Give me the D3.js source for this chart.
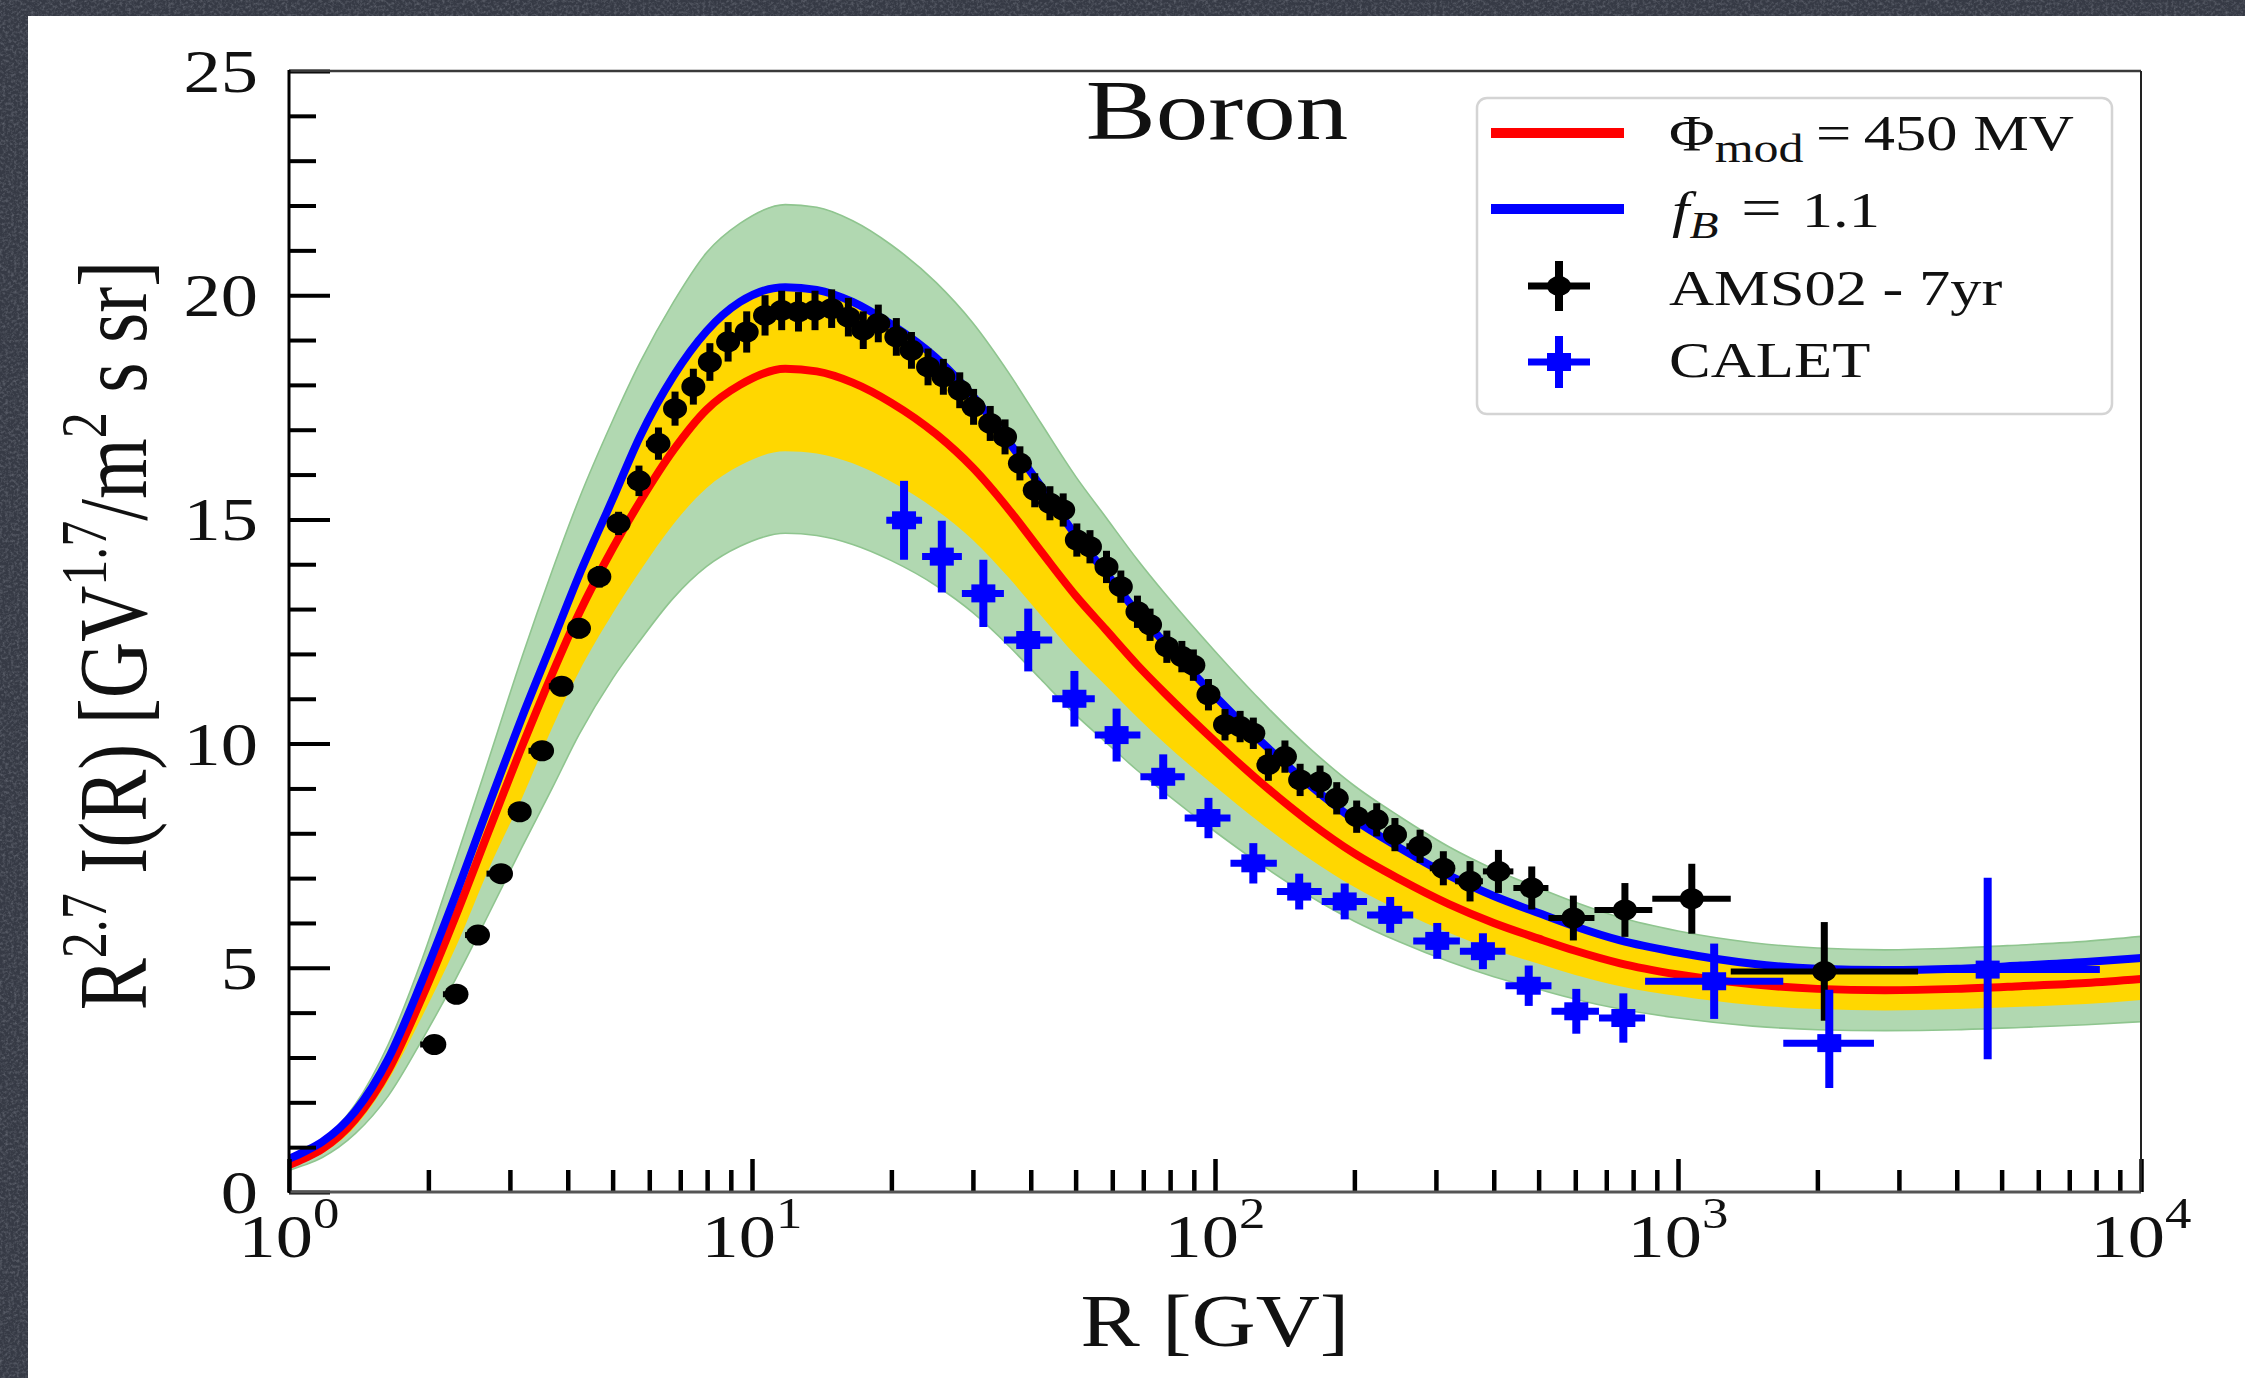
<!DOCTYPE html>
<html>
<head>
<meta charset="utf-8">
<script src="https://cdn.jsdelivr.net/npm/d3@7"></script>
<style>
  html, body { margin: 0; padding: 0; background: #383c47; }
  svg { display: block; }
</style>
</head>
<body>
<svg id="chart" width="2245" height="1378"></svg>
<script>
// ---- Model curves: R^2.7 * flux for boron, sampled in rigidity R [GV] ----
const modelR      = [1, 1.08, 1.18, 1.39, 1.64, 1.94, 2.29, 2.7, 3.19, 3.7, 4.23, 5.0, 5.73, 6.77, 7.98, 9.42, 11.8, 13.8, 16.5, 20, 25, 30, 36, 42, 50, 58, 68, 78, 100, 125, 160, 200, 250, 320, 400, 500, 600, 750, 1000, 1450, 2000, 2800, 4000, 5500, 7600, 10000];
const phiMod450   = [0.6, 0.75, 0.96, 1.62, 2.72, 4.35, 6.15, 8.05, 9.95, 11.55, 12.9, 14.35, 15.4, 16.55, 17.45, 18.0, 18.36, 18.3, 18.05, 17.6, 16.9, 16.15, 15.2, 14.3, 13.3, 12.55, 11.75, 11.12, 10.05, 9.15, 8.25, 7.55, 6.98, 6.42, 6.0, 5.65, 5.38, 5.1, 4.85, 4.63, 4.53, 4.5, 4.53, 4.59, 4.66, 4.75];
const fB11        = [0.74, 0.9, 1.12, 1.8, 2.98, 4.72, 6.62, 8.62, 10.6, 12.25, 13.75, 15.45, 16.85, 18.2, 19.2, 19.85, 20.18, 20.12, 19.85, 19.35, 18.6, 17.75, 16.7, 15.75, 14.65, 13.82, 12.92, 12.24, 11.06, 10.07, 9.08, 8.3, 7.68, 7.06, 6.6, 6.22, 5.92, 5.61, 5.34, 5.09, 4.98, 4.95, 4.98, 5.05, 5.13, 5.22];
const innerBandLo = [0.54, 0.68, 0.86, 1.46, 2.5, 3.92, 5.45, 7.2, 8.8, 10.35, 11.6, 12.9, 13.85, 14.9, 15.7, 16.2, 16.52, 16.47, 16.25, 15.84, 15.21, 14.54, 13.68, 12.87, 11.97, 11.3, 10.58, 10.0, 9.05, 8.24, 7.43, 6.8, 6.28, 5.78, 5.4, 5.09, 4.84, 4.59, 4.37, 4.17, 4.08, 4.05, 4.08, 4.13, 4.19, 4.28];
const innerBandHi = [0.68, 0.83, 1.06, 1.76, 2.95, 4.7, 6.58, 8.58, 10.55, 12.2, 13.7, 15.4, 16.85, 18.2, 19.2, 19.85, 20.2, 20.13, 19.86, 19.36, 18.6, 17.75, 16.7, 15.75, 14.65, 13.82, 12.92, 12.24, 11.06, 10.07, 9.08, 8.3, 7.68, 7.06, 6.6, 6.22, 5.92, 5.61, 5.34, 5.09, 4.98, 4.95, 4.98, 5.05, 5.13, 5.22];
const outerBandLo = [0.48, 0.6, 0.77, 1.3, 2.15, 3.4, 4.75, 6.2, 7.7, 9.0, 10.2, 11.45, 12.3, 13.25, 13.95, 14.4, 14.69, 14.64, 14.44, 14.08, 13.52, 12.92, 12.16, 11.44, 10.64, 10.04, 9.4, 8.9, 8.04, 7.32, 6.6, 6.04, 5.58, 5.14, 4.8, 4.52, 4.3, 4.08, 3.88, 3.7, 3.62, 3.6, 3.62, 3.67, 3.73, 3.8];
const outerBandHi = [0.72, 0.9, 1.15, 1.95, 3.3, 5.2, 7.4, 9.65, 11.95, 13.85, 15.45, 17.2, 18.5, 19.85, 20.95, 21.6, 22.02, 21.96, 21.66, 21.12, 20.28, 19.38, 18.24, 17.16, 15.96, 15.06, 14.1, 13.34, 12.06, 10.98, 9.9, 9.06, 8.38, 7.7, 7.2, 6.78, 6.46, 6.12, 5.82, 5.56, 5.44, 5.4, 5.44, 5.51, 5.59, 5.7];

// ---- AMS-02 (7 yr) boron data ----
const amsEdges = [1.92, 2.15, 2.40, 2.67, 2.97, 3.29, 3.64, 4.02, 4.43, 4.88, 5.37, 5.90, 6.47, 7.09, 7.76, 8.48, 9.26, 10.1, 11.0, 12.0, 13.0, 14.1, 15.3, 16.6, 18.0, 19.5, 21.1, 22.8, 24.7, 26.7, 28.8, 31.1, 33.5, 36.1, 38.9, 41.9, 45.1, 48.5, 52.2, 56.1, 60.3, 64.8, 69.7, 74.9, 80.5, 86.5, 93.0, 100, 108, 116, 125, 135, 147, 160, 175, 192, 211, 233, 259, 291, 330, 379, 441, 525, 660, 880, 1300, 3300];
const amsR = [2.06, 2.30, 2.56, 2.87, 3.15, 3.52, 3.88, 4.23, 4.68, 5.15, 5.70, 6.28, 6.82, 7.47, 8.11, 8.88, 9.74, 10.67, 11.59, 12.6, 13.68, 14.86, 16.15, 17.39, 18.74, 20.5, 22.1, 24.0, 25.9, 28.1, 30.1, 32.7, 35.2, 37.9, 40.8, 44.0, 47.0, 50.3, 53.7, 58.3, 62.6, 68.0, 72.4, 78.7, 84.8, 89.8, 96.8, 105.1, 113.3, 121, 130.4, 141.6, 152.7, 168.6, 183.2, 202.3, 223.5, 244.7, 277.3, 311.3, 355.5, 409.4, 483.2, 594.3, 768, 1071, 2070];
const amsFlux = [3.29, 4.41, 5.73, 7.10, 8.48, 9.84, 11.28, 12.57, 13.72, 14.91, 15.86, 16.69, 17.47, 17.96, 18.51, 18.96, 19.18, 19.55, 19.66, 19.63, 19.66, 19.70, 19.51, 19.22, 19.37, 19.07, 18.77, 18.40, 18.18, 17.88, 17.51, 17.14, 16.84, 16.25, 15.65, 15.36, 15.21, 14.54, 14.39, 13.94, 13.50, 12.94, 12.65, 12.16, 11.94, 11.75, 11.09, 10.42, 10.38, 10.23, 9.53, 9.71, 9.19, 9.15, 8.78, 8.37, 8.30, 7.97, 7.71, 7.22, 6.93, 7.15, 6.78, 6.11, 6.29, 6.54, 4.92];
const amsErr = [0.10, 0.10, 0.12, 0.12, 0.14, 0.2, 0.2, 0.22, 0.24, 0.26, 0.34, 0.36, 0.38, 0.4, 0.42, 0.44, 0.46, 0.45, 0.44, 0.44, 0.44, 0.43, 0.43, 0.42, 0.42, 0.42, 0.41, 0.41, 0.4, 0.4, 0.4, 0.39, 0.39, 0.38, 0.38, 0.38, 0.37, 0.37, 0.37, 0.36, 0.36, 0.36, 0.36, 0.36, 0.35, 0.35, 0.35, 0.35, 0.35, 0.35, 0.36, 0.36, 0.36, 0.36, 0.36, 0.36, 0.37, 0.37, 0.37, 0.38, 0.45, 0.48, 0.48, 0.5, 0.6, 0.78, 1.1];

// ---- CALET boron data ----
const caletR      = [21.3, 25.7, 31.6, 39.5, 49.7, 61.3, 77.3, 96.8, 121, 152, 190.6, 239, 302, 379, 476, 603, 762, 1197, 2122, 4665];
const caletFlux   = [14.98, 14.17, 13.35, 12.31, 11.0, 10.19, 9.26, 8.34, 7.33, 6.70, 6.48, 6.18, 5.60, 5.37, 4.60, 4.03, 3.88, 4.70, 3.32, 4.96];
const caletErrLo  = [0.88, 0.80, 0.75, 0.70, 0.62, 0.59, 0.50, 0.45, 0.45, 0.40, 0.40, 0.40, 0.40, 0.40, 0.45, 0.50, 0.55, 0.84, 1.00, 2.0];
const caletErrHi  = [0.88, 0.80, 0.75, 0.70, 0.62, 0.59, 0.50, 0.45, 0.45, 0.40, 0.40, 0.40, 0.40, 0.40, 0.45, 0.50, 0.55, 0.84, 1.19, 2.05];
const caletBinLo  = [19.5, 23.3, 28.4, 35.0, 44.5, 55.0, 69.0, 86.0, 108, 136, 170, 213, 268, 338, 424, 533, 675, 849, 1688, 3340];
const caletBinHi  = [23.3, 28.4, 35.0, 44.5, 55.0, 69.0, 86.0, 108, 136, 170, 213, 268, 338, 424, 533, 675, 849, 1688, 2650, 8150];

// ---- Axis ticks ----
const yMajorTicks = [0, 5, 10, 15, 20, 25];
const yMinorTicks = [1, 2, 3, 4, 6, 7, 8, 9, 11, 12, 13, 14, 16, 17, 18, 19, 21, 22, 23, 24];
const xDecadeExps = [0, 1, 2, 3, 4];
const xMinorMult  = [2, 3, 4, 5, 6, 7, 8, 9];

// ---- Legend entries ----
const legendLabels = ["Φ", "f", "AMS02 - 7yr", "CALET"];

// ================= drawing =================
const W = 2245, H = 1378;
const FONT = "'Liberation Serif', 'Times New Roman', serif";
const SX = 1.25;   // horizontal stretch of glyphs

const svg = d3.select("#chart");
const defs = svg.append("defs");

// slate backdrop with grain
const grain = defs.append("filter").attr("id", "grain")
  .attr("x", 0).attr("y", 0).attr("width", "100%").attr("height", "100%");
grain.append("feTurbulence").attr("type", "fractalNoise")
  .attr("baseFrequency", "0.35").attr("numOctaves", 4).attr("seed", 11).attr("result", "n");
grain.append("feColorMatrix").attr("in", "n").attr("type", "matrix")
  .attr("values", "0 0 0 0 0.72  0 0 0 0 0.75  0 0 0 0 0.82  0.9 0 0 0 -0.38");
svg.append("rect").attr("width", W).attr("height", H).attr("fill", "#363a45");
svg.append("rect").attr("width", W).attr("height", H).attr("filter", "url(#grain)").attr("opacity", 0.55);

// white sheet
svg.append("rect").attr("x", 28).attr("y", 16).attr("width", W - 28).attr("height", H - 16).attr("fill", "#ffffff");

// scales
const x = d3.scaleLog().domain([1, 1e4]).range([289, 2141]);
const y = d3.scaleLinear().domain([0, 25]).range([1192, 71]);
const [px0, px1] = x.range();
const [py1, py0] = y.range();

defs.append("clipPath").attr("id", "plotClip").append("rect")
  .attr("x", px0).attr("y", py0).attr("width", px1 - px0).attr("height", py1 - py0);

const model = modelR.map((r, i) => ({
  r, red: phiMod450[i], blue: fB11[i],
  iLo: innerBandLo[i], iHi: innerBandHi[i], oLo: outerBandLo[i], oHi: outerBandHi[i]
}));

const plot = svg.append("g").attr("clip-path", "url(#plotClip)");

const area = (lo, hi) => d3.area().x(d => x(d.r)).y0(d => y(d[lo])).y1(d => y(d[hi])).curve(d3.curveMonotoneX);
const line = key => d3.line().x(d => x(d.r)).y(d => y(d[key])).curve(d3.curveMonotoneX);

plot.append("path").datum(model).attr("d", area("oLo", "oHi"))
  .attr("fill", "#b1d8b1").attr("stroke", "#8fc58f").attr("stroke-width", 1.6);
plot.append("path").datum(model).attr("d", area("iLo", "iHi")).attr("fill", "#ffd700");
plot.append("path").datum(model).attr("d", line("red"))
  .attr("fill", "none").attr("stroke", "#ff0000").attr("stroke-width", 8).attr("stroke-linejoin", "round");
plot.append("path").datum(model).attr("d", line("blue"))
  .attr("fill", "none").attr("stroke", "#0000ff").attr("stroke-width", 8).attr("stroke-linejoin", "round");

// AMS-02 points
const ams = amsR.map((r, i) => ({ r, v: amsFlux[i], e: amsErr[i], lo: amsEdges[i], hi: amsEdges[i + 1] }));
const amsG = plot.append("g");
amsG.selectAll("line.h").data(ams).join("line").attr("class", "h")
  .attr("x1", d => x(d.lo)).attr("x2", d => x(d.hi))
  .attr("y1", d => y(d.v)).attr("y2", d => y(d.v))
  .attr("stroke", "#000").attr("stroke-width", 6);
amsG.selectAll("line.v").data(ams).join("line").attr("class", "v")
  .attr("x1", d => x(d.r)).attr("x2", d => x(d.r))
  .attr("y1", d => y(d.v - d.e)).attr("y2", d => y(d.v + d.e))
  .attr("stroke", "#000").attr("stroke-width", 7);
amsG.selectAll("ellipse").data(ams).join("ellipse")
  .attr("cx", d => x(d.r)).attr("cy", d => y(d.v)).attr("rx", 12).attr("ry", 10.5).attr("fill", "#000");

// CALET points
const calet = caletR.map((r, i) => ({ r, v: caletFlux[i], el: caletErrLo[i], eh: caletErrHi[i], lo: caletBinLo[i], hi: caletBinHi[i] }));
const calG = plot.append("g");
calG.selectAll("line.h").data(calet).join("line").attr("class", "h")
  .attr("x1", d => x(d.lo)).attr("x2", d => x(d.hi))
  .attr("y1", d => y(d.v)).attr("y2", d => y(d.v))
  .attr("stroke", "#0000ff").attr("stroke-width", 7);
calG.selectAll("line.v").data(calet).join("line").attr("class", "v")
  .attr("x1", d => x(d.r)).attr("x2", d => x(d.r))
  .attr("y1", d => y(d.v - d.el)).attr("y2", d => y(d.v + d.eh))
  .attr("stroke", "#0000ff").attr("stroke-width", 8);
calG.selectAll("rect").data(calet).join("rect")
  .attr("x", d => x(d.r) - 12).attr("y", d => y(d.v) - 9).attr("width", 24).attr("height", 18)
  .attr("fill", "#0000ff");

// ---- axes: inward ticks ----
const axes = svg.append("g");
function styleAxis(g, w) {
  g.select(".domain").remove();
  g.selectAll(".tick line").attr("stroke", "#000").attr("stroke-width", w);
  g.selectAll(".tick text").remove();
}
axes.append("g").attr("transform", `translate(${px0},0)`)
  .call(d3.axisLeft(y).tickValues(yMajorTicks).tickSize(-41).tickFormat(""))
  .call(g => styleAxis(g, 4));
axes.append("g").attr("transform", `translate(${px0},0)`)
  .call(d3.axisLeft(y).tickValues(yMinorTicks).tickSize(-27).tickFormat(""))
  .call(g => styleAxis(g, 4));
const decadeVals = xDecadeExps.map(k => Math.pow(10, k));
const minorVals = xDecadeExps.slice(0, -1).flatMap(k => xMinorMult.map(m => m * Math.pow(10, k)));
axes.append("g").attr("transform", `translate(0,${py1})`)
  .call(d3.axisBottom(x).tickValues(decadeVals).tickSize(-33).tickFormat(""))
  .call(g => styleAxis(g, 4.5));
axes.append("g").attr("transform", `translate(0,${py1})`)
  .call(d3.axisBottom(x).tickValues(minorVals).tickSize(-22).tickFormat(""))
  .call(g => styleAxis(g, 4.5));

// frame
axes.append("line").attr("x1", px0).attr("x2", px1).attr("y1", py0).attr("y2", py0).attr("stroke", "#3a3a3a").attr("stroke-width", 2.5);
axes.append("line").attr("x1", px0).attr("x2", px1).attr("y1", py1).attr("y2", py1).attr("stroke", "#555").attr("stroke-width", 3);
axes.append("line").attr("x1", px1).attr("x2", px1).attr("y1", py0).attr("y2", py1).attr("stroke", "#222").attr("stroke-width", 2);
axes.append("line").attr("x1", px0).attr("x2", px0).attr("y1", py0 - 1).attr("y2", py1 + 1).attr("stroke", "#000").attr("stroke-width", 3);

// ---- text helper (stretched serif glyphs) ----
function label(parent, tx, ty, size, anchor, parts, sx = SX) {
  const t = parent.append("text")
    .attr("transform", `translate(${tx},${ty}) scale(${sx},1)`)
    .attr("text-anchor", anchor).attr("font-family", FONT)
    .attr("font-size", size).attr("fill", "#111");
  parts.forEach(p => {
    const s = t.append("tspan").text(p.t);
    if (p.size) s.attr("font-size", p.size);
    if (p.dy) s.attr("dy", p.dy);
    if (p.dx) s.attr("dx", p.dx);
    if (p.italic) s.attr("font-style", "italic");
  });
  return t;
}

const texts = svg.append("g");
yMajorTicks.forEach(v => label(texts, 258, y(v) + 21, 62, "end", [{ t: String(v) }], 1.2));
xDecadeExps.forEach(k => label(texts, x(Math.pow(10, k)), 1257, 62, "middle",
  [{ t: "10" }, { t: String(k), size: 44, dy: -29 }], 1.2));

// axis titles
label(texts, (px0 + px1) / 2, 1346, 74, "middle", [{ t: "R [GV]" }], 1.2);
texts.append("text")
  .attr("transform", `translate(146,${(py0 + py1) / 2 + 4}) rotate(-90) scale(1,${SX})`)
  .attr("text-anchor", "middle").attr("font-family", FONT).attr("font-size", 78).attr("fill", "#111")
  .call(t => {
    const parts = [
      { t: "R" }, { t: "2.7", size: 52, dy: -32 }, { t: " I(R) [GV", dy: 32 },
      { t: "1.7", size: 52, dy: -32 }, { t: "/m", dy: 32 }, { t: "2", size: 52, dy: -32 },
      { t: " s sr]", dy: 32 }
    ];
    parts.forEach(p => {
      const s = t.append("tspan").text(p.t);
      if (p.size) s.attr("font-size", p.size);
      if (p.dy) s.attr("dy", p.dy);
    });
  });

// title
label(texts, 1217, 139, 84, "middle", [{ t: "Boron" }]);

// ---- legend ----
const leg = svg.append("g");
leg.append("rect").attr("x", 1477).attr("y", 98).attr("width", 635).attr("height", 316).attr("rx", 10)
  .attr("fill", "#fff").attr("stroke", "#d4d4d4").attr("stroke-width", 2.5);
leg.append("line").attr("x1", 1491).attr("x2", 1624).attr("y1", 133).attr("y2", 133)
  .attr("stroke", "#ff0000").attr("stroke-width", 10);
leg.append("line").attr("x1", 1491).attr("x2", 1624).attr("y1", 209).attr("y2", 209)
  .attr("stroke", "#0000ff").attr("stroke-width", 10);
// AMS marker
leg.append("line").attr("x1", 1528).attr("x2", 1590).attr("y1", 286).attr("y2", 286).attr("stroke", "#000").attr("stroke-width", 7);
leg.append("line").attr("x1", 1559).attr("x2", 1559).attr("y1", 261).attr("y2", 311).attr("stroke", "#000").attr("stroke-width", 8);
leg.append("ellipse").attr("cx", 1559).attr("cy", 286).attr("rx", 12).attr("ry", 10).attr("fill", "#000");
// CALET marker
leg.append("line").attr("x1", 1528).attr("x2", 1590).attr("y1", 362).attr("y2", 362).attr("stroke", "#0000ff").attr("stroke-width", 7);
leg.append("line").attr("x1", 1559).attr("x2", 1559).attr("y1", 336).attr("y2", 388).attr("stroke", "#0000ff").attr("stroke-width", 8);
leg.append("rect").attr("x", 1547).attr("y", 353).attr("width", 24).attr("height", 18).attr("fill", "#0000ff");

label(leg, 1669, 150, 50, "start", [
  { t: legendLabels[0] }, { t: "mod", size: 40, dy: 12 },
  { t: "=", dy: -12, dx: 10 }, { t: "450 MV", dx: 10 }
]);
label(leg, 1672, 227, 50, "start", [
  { t: legendLabels[1], italic: true }, { t: "B", size: 38, dy: 11, italic: true },
  { t: "=", size: 58, dy: -11, dx: 18 }, { t: "1.1", dx: 16 }
]);
label(leg, 1669, 305, 50, "start", [{ t: legendLabels[2] }]);
label(leg, 1669, 377, 50, "start", [{ t: legendLabels[3] }]);
</script>
</body>
</html>
